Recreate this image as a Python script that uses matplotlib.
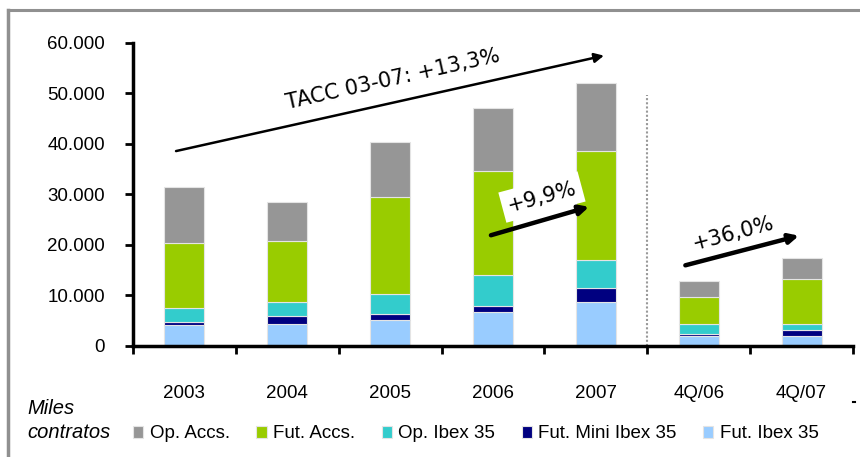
import matplotlib
matplotlib.use("Agg")
import matplotlib.pyplot as plt
from matplotlib.lines import Line2D
from matplotlib.ticker import FuncFormatter
import numpy as np

# data (miles de contratos)
categories = ["2003", "2004", "2005", "2006", "2007", "4Q/06", "4Q/07"]
fut_ibex = [4040, 4360, 5150, 6730, 8710, 1980, 1980]
fut_mini_ibex = [650, 1520, 1190, 1190, 2780, 400, 1190]
op_ibex = [2830, 2830, 3960, 6020, 5540, 1980, 1190]
fut_accs = [12760, 11960, 19090, 20660, 21470, 5220, 8790]
op_accs = [11090, 7830, 10990, 12500, 13460, 3170, 4280]

series = [
    ("Fut. Ibex 35", fut_ibex, "#99CCFF"),
    ("Fut. Mini Ibex 35", fut_mini_ibex, "#000080"),
    ("Op. Ibex 35", op_ibex, "#33CCCC"),
    ("Fut. Accs.", fut_accs, "#99CC00"),
    ("Op. Accs.", op_accs, "#969696"),
]

label_font = ["Liberation Sans", "DejaVu Sans"]


def thousands(v, pos):
    return f"{int(v):,}".replace(",", ".")


def make_chart():
    fig = plt.figure(figsize=(8.6, 4.57), dpi=100)
    ax = fig.add_axes([133 / 860, 1 - 345.7 / 457, 720 / 860, 303 / 457])

    x = np.arange(len(categories))
    bottom = np.zeros(len(categories))
    handles = {}
    for name, vals, color in series:
        b = ax.bar(x, vals, 0.39, bottom=bottom, color=color,
                   edgecolor="#e4e4e4", linewidth=0.8, label=name)
        handles[name] = b
        bottom += np.array(vals)

    ax.set_xlim(-0.5, len(categories) - 0.5)
    ax.set_ylim(0, 60000)
    ax.set_yticks(np.arange(0, 60001, 10000))
    ax.yaxis.set_major_formatter(FuncFormatter(thousands))

    ax.set_xticks(x)
    ax.set_xticklabels(categories)
    ax.set_xticks(np.arange(-0.5, len(categories)), minor=True)
    ax.tick_params(axis="x", which="major", length=0, pad=28)
    ax.tick_params(axis="x", which="minor", length=6, width=2, direction="out")
    ax.tick_params(axis="y", length=6, width=2, direction="out", pad=14)
    for lbl in ax.get_xticklabels() + ax.get_yticklabels():
        lbl.set_family(label_font)
        lbl.set_fontsize(13.5)

    for s in ["top", "right"]:
        ax.spines[s].set_visible(False)
    for s in ["left", "bottom"]:
        ax.spines[s].set_linewidth(2.5)

    # separator between years and quarters
    ax.plot([4.5, 4.5], [0, 49600], color="#999999", linestyle=(0, (1, 1)),
            linewidth=1.5, clip_on=False)

    # growth arrows
    arrow = dict(arrowstyle="-|>", color="black", mutation_scale=14)
    ax.annotate("", xy=(4.105, 57560), xytext=(-0.108, 38420),
                arrowprops=dict(arrow, linewidth=1.8), annotation_clip=False)
    ax.text(2.03, 52700, "TACC 03-07: +13,3%", rotation=12.6, fontsize=15,
            ha="center", va="center", family="DejaVu Sans")

    ax.annotate("", xy=(3.96, 27660), xytext=(2.954, 21720),
                arrowprops=dict(arrow, linewidth=3.2))
    ax.text(3.476, 29440, "+9,9%", rotation=15, fontsize=15,
            ha="center", va="center", family="DejaVu Sans",
            bbox=dict(facecolor="white", edgecolor="none", pad=4))

    ax.annotate("", xy=(6.0, 21920), xytext=(4.844, 15780),
                arrowprops=dict(arrow, linewidth=3.2))
    ax.text(5.333, 22315, "+36,0%", rotation=15, fontsize=15,
            ha="center", va="center", family="DejaVu Sans")

    # legend
    order = ["Op. Accs.", "Fut. Accs.", "Op. Ibex 35", "Fut. Mini Ibex 35", "Fut. Ibex 35"]
    fig.legend([handles[n] for n in order], order, ncol=5, frameon=False,
               loc="center left", bbox_to_anchor=(133 / 860, 1 - 434 / 457),
               prop={"family": label_font, "size": 13.5}, handlelength=0.55,
               handleheight=0.55, handletextpad=0.35, columnspacing=1.4,
               borderpad=0, borderaxespad=0)
    fig.text(27 / 860, 1 - 409 / 457, "Miles", fontsize=14.5, style="italic",
             family="Liberation Sans", va="center")
    fig.text(27 / 860, 1 - 432 / 457, "contratos", fontsize=14.5, style="italic",
             family="Liberation Sans", va="center")

    # frame lines of the slide box
    fig.add_artist(Line2D([8 / 860, 1], [1 - 10 / 457, 1 - 10 / 457],
                          color="#909090", linewidth=2.2))
    fig.add_artist(Line2D([8 / 860, 8 / 860], [0, 1 - 10 / 457],
                          color="#909090", linewidth=2.5))
    fig.add_artist(Line2D([853 / 860, 855 / 860], [1 - 402 / 457, 1 - 402 / 457],
                          color="black", linewidth=1.5))

    fig.savefig("out.png", dpi=100)


if __name__ == "__main__":
    make_chart()
